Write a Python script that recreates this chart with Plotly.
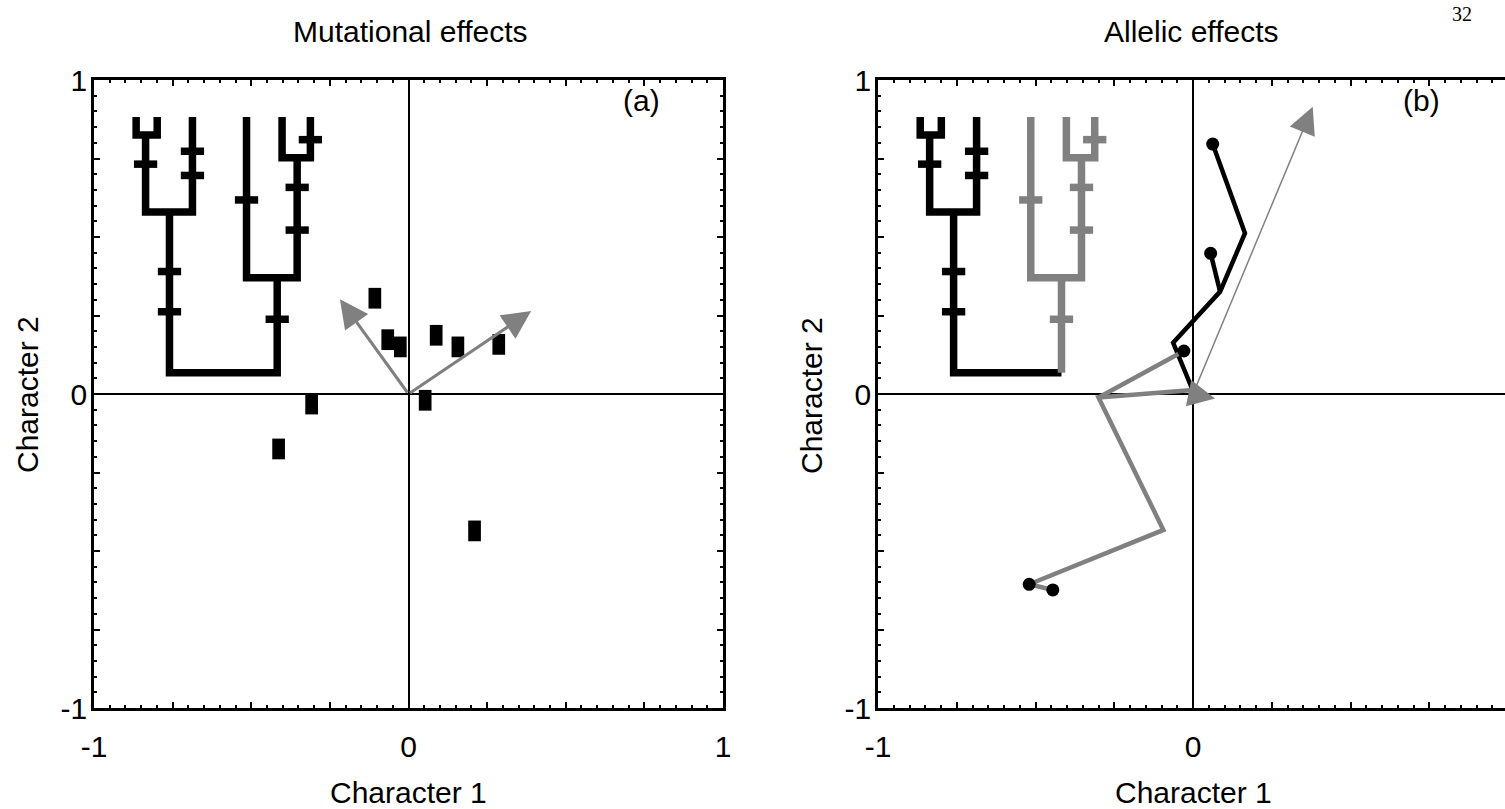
import plotly.graph_objects as go

BLACK = "#000000"
GRAY = "#808080"
FONT = "Liberation Sans, Arial, sans-serif"
W, H = 1505, 809

# ---- Panel (a): mutational effects -------------------------------------
mut_x = [-0.107, -0.066, -0.026, 0.088, 0.157, 0.287, 0.053, -0.308, -0.413, 0.210]
mut_y = [0.305, 0.173, 0.150, 0.187, 0.150, 0.158, -0.020, -0.032, -0.175, -0.436]

# mutational axes drawn from the origin
axis_a_x = [-0.218, 0.390]
axis_a_y = [0.302, 0.264]

# ---- Panel (b): allelic effects ----------------------------------------
black_path_x = [0.0, -0.063, 0.086, 0.165, 0.0625]
black_path_y = [0.010, 0.163, 0.326, 0.512, 0.796]
black_branch_x = [0.086, 0.056]
black_branch_y = [0.326, 0.448]

gray_path_x = [0.0, -0.300, -0.094, -0.520, -0.445]
gray_path_y = [0.013, -0.011, -0.433, -0.606, -0.624]
gray_branch_x = [-0.300, -0.029]
gray_branch_y = [-0.011, 0.137]

allele_x = [0.0625, 0.056, -0.029, -0.520, -0.445]
allele_y = [0.796, 0.448, 0.137, -0.606, -0.624]

axis_b_x = [0.380, 0.070]
axis_b_y = [0.915, -0.014]
axis_b_width = [1.5, 1.5]

# ---- Genealogy inset (axis units) --------------------------------------
# each split joins a left and a right lineage
split_y = [0.068, 0.580, 0.825, 0.370, 0.752]
split_left = [-0.760, -0.836, -0.866, -0.515, -0.402]
split_right = [-0.4175, -0.687, -0.799, -0.354, -0.312]
split_left_top = [0.580, 0.825, 0.882, 0.882, 0.882]
split_right_top = [0.370, 0.882, 0.882, 0.752, 0.882]
split_clade = [0, 0, 0, 1, 1]          # 0 = first clade, 1 = second clade

# mutations along the branches
tick_x = [-0.760, -0.760, -0.836, -0.687, -0.687, -0.4175, -0.515, -0.354, -0.354, -0.312]
tick_y = [0.262, 0.390, 0.732, 0.696, 0.773, 0.238, 0.618, 0.522, 0.658, 0.810]
tick_clade = [0, 0, 0, 0, 0, 1, 1, 1, 1, 1]
TICK_HALF = 0.037
TREE_W = 7.5

x_ticks = [-1, -0.75, -0.5, -0.25, 0, 0.25, 0.5, 0.75, 1]
x_ticktext = ["-1", "", "", "", "0", "", "", "", "1"]

fig = go.Figure()


def add_lines(xs, ys, color, width, xa, ya):
    fig.add_trace(go.Scatter(x=xs, y=ys, mode="lines", xaxis=xa, yaxis=ya,
                             line=dict(color=color, width=width),
                             hoverinfo="skip", showlegend=False))


def tree(xa, ya, two_tone):
    segs = {BLACK: ([], []), GRAY: ([], [])}
    late = ([], [])
    for i in range(len(split_y)):
        L, R, y = split_left[i], split_right[i], split_y[i]
        col = GRAY if (two_tone and split_clade[i] == 1) else BLACK
        if two_tone and i == 0:
            bx, by = segs[BLACK]
            bx += [L, L, R, None]
            by += [split_left_top[i], y, y, None]
            late[0].extend([R, R, None])
            late[1].extend([y, split_right_top[i], None])
        else:
            cx, cy = segs[col]
            cx += [L, L, R, R, None]
            cy += [split_left_top[i], y, y, split_right_top[i], None]
    for j in range(len(tick_x)):
        col = GRAY if (two_tone and tick_clade[j] == 1) else BLACK
        cx, cy = segs[col]
        cx += [tick_x[j] - TICK_HALF, tick_x[j] + TICK_HALF, None]
        cy += [tick_y[j], tick_y[j], None]
    add_lines(*segs[BLACK], BLACK, TREE_W, xa, ya)
    if two_tone:
        gx, gy = segs[GRAY]
        add_lines(gx + late[0], gy + late[1], GRAY, TREE_W, xa, ya)


# Panel (a)
tree("x", "y", False)
fig.add_trace(go.Scatter(
    x=mut_x, y=mut_y, mode="markers", xaxis="x", yaxis="y",
    marker=dict(symbol="line-ns", size=14.8, color=BLACK,
                line=dict(color=BLACK, width=12.7)),
    hoverinfo="skip", showlegend=False))

# Panel (b)
tree("x2", "y2", True)
add_lines(black_path_x, black_path_y, BLACK, 4.5, "x2", "y2")
add_lines(black_branch_x, black_branch_y, BLACK, 4.5, "x2", "y2")
add_lines(gray_path_x, gray_path_y, GRAY, 4.5, "x2", "y2")
add_lines(gray_branch_x, gray_branch_y, GRAY, 4.5, "x2", "y2")
fig.add_trace(go.Scatter(
    x=allele_x, y=allele_y, mode="markers", xaxis="x2", yaxis="y2",
    marker=dict(symbol="circle", size=13, color=BLACK),
    hoverinfo="skip", showlegend=False))

annotations = []
for tx, ty in zip(axis_a_x, axis_a_y):
    annotations.append(dict(
        x=tx, y=ty, ax=0, ay=0, xref="x", yref="y", axref="x", ayref="y",
        text="", showarrow=True, arrowhead=2, arrowsize=1.9, arrowwidth=3,
        arrowcolor=GRAY, standoff=0, startstandoff=0))
for tx, ty, w in zip(axis_b_x, axis_b_y, axis_b_width):
    annotations.append(dict(
        x=tx, y=ty, ax=0, ay=0, xref="x2", yref="y2", axref="x2", ayref="y2",
        text="", showarrow=True, arrowhead=2, arrowsize=3.6, arrowwidth=w,
        arrowcolor=GRAY, standoff=0, startstandoff=0))


def text(x, y, s, angle=0, xanchor="center", yanchor="middle", family=FONT, size=30):
    annotations.append(dict(
        x=x / W, y=1 - y / H, xref="paper", yref="paper", text=s, showarrow=False,
        textangle=angle, xanchor=xanchor, yanchor=yanchor,
        font=dict(family=family, size=size, color=BLACK)))


text(410, 31, "Mutational effects")
text(1191, 31, "Allelic effects")
text(408, 792, "Character 1")
text(1193, 792, "Character 1")
text(27, 395, "Character 2", angle=-90)
text(811, 395, "Character 2", angle=-90)
text(641, 101, "(a)")
text(1421, 101, "(b)")
text(1462, 1, "32", yanchor="top", family="Liberation Serif, Times New Roman, serif", size=20)

x_left_a, x_right_a = 94, 723
x_left_b = 878
y_top, y_bot = 80, 708

common = dict(
    showgrid=False, zeroline=True, zerolinecolor=BLACK, zerolinewidth=2,
    showline=True, linecolor=BLACK, linewidth=2.5,
    tickmode="array", tickvals=x_ticks, ticktext=x_ticktext,
    ticks="inside", ticklen=6, tickwidth=2, tickcolor=BLACK,
    minor=dict(dtick=0.05, ticks="inside", ticklen=3, tickwidth=2, tickcolor=BLACK),
    tickfont=dict(family=FONT, size=30, color=BLACK),
    fixedrange=True, automargin=False,
)

fig.update_layout(
    width=W, height=H,
    margin=dict(l=0, r=0, t=0, b=0, pad=0, autoexpand=False),
    paper_bgcolor="white", plot_bgcolor="white", showlegend=False,
    xaxis=dict(common, domain=[x_left_a / W, x_right_a / W], range=[-1, 1],
               mirror="ticks", anchor="y", ticklabelstandoff=10),
    yaxis=dict(common, domain=[1 - y_bot / H, 1 - y_top / H], range=[-1, 1],
               mirror="ticks", anchor="x", ticklabelstandoff=-2),
    xaxis2=dict(common, domain=[x_left_b / W, 1.0],
                range=[-1, (W - x_left_b) / 315 - 1], mirror="ticks", anchor="y2",
                ticklabelstandoff=10),
    yaxis2=dict(common, domain=[1 - y_bot / H, 1 - y_top / H], range=[-1, 1],
                mirror=False, anchor="x2", ticklabelstandoff=-2),
    annotations=annotations,
)

fig.write_html("out.html")
